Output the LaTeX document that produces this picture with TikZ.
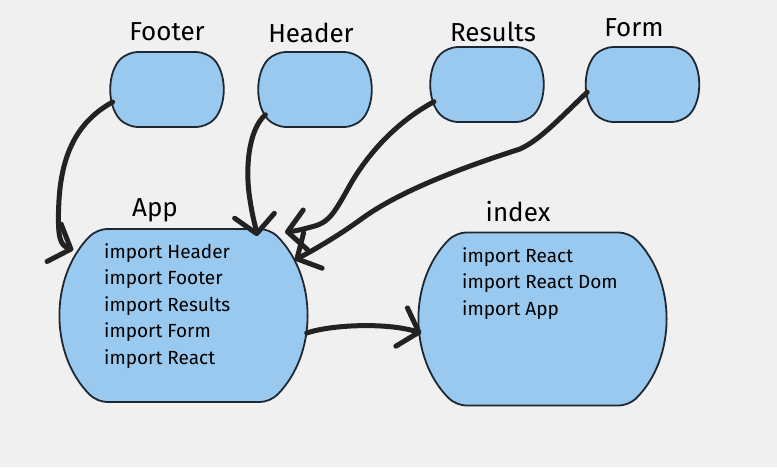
\documentclass[tikz,border=0pt]{standalone}
\usepackage{fontspec}
\setmainfont{Fira Sans}
\usepackage{tikz}
\usetikzlibrary{shapes.misc,arrows.meta,calc}
\definecolor{boxblue}{RGB}{153,201,239}
\definecolor{inkline}{RGB}{34,34,34}
\definecolor{boxline}{RGB}{30,40,50}
\definecolor{paper}{RGB}{240,240,240}

\begin{document}
\begin{tikzpicture}[x=1pt,y=-1pt,
    comp/.style={rounded rectangle, rounded rectangle arc length=90, draw=boxline,
      line width=1.8pt, fill=boxblue, inner sep=0pt, rounded corners=10pt},
    small/.style={comp, minimum width=110pt, minimum height=75pt},
    big/.style={comp, minimum width=244pt, minimum height=173pt},
    title/.style={font=\fontsize{26}{30}\selectfont, inner sep=0pt},
    lines/.style={font=\fontsize{19}{26.5}\selectfont, align=left, anchor=north west, inner sep=0pt},
    link/.style={draw=inkline, line width=5pt, line cap=round, sharp corners,
      -{Straight Barb[length=18pt,width=40pt,round]}}]
  \fill[paper] (0,0) rectangle (777,467);
  \useasboundingbox (0,0) rectangle (777,467);

  % the four components on top
  \foreach \name/\x/\y/\lx/\ly in {Footer/167/89.5/167/32, Header/315/89.5/311/33,
      Results/487/84.5/493/32, Form/642.5/84.5/634/28} {
    \node[small] (\name) at (\x,\y) {};
    \node[title] (lbl\name) at (\lx,\ly) {\name};
  }

  % App and index
  \node[big] (App) at (183.5,315.5) {};
  \node[title] (lblApp) at (155,210) {App};
  \node[lines] (appText) at (104,243) {import Header\\import Footer\\import Results\\import Form\\import React};

  \node[big] (index) at (542.5,319) {};
  \node[title] (lblindex) at (518,212) {index};
  \node[lines] (indexText) at (462,247) {import React\\import React Dom\\import App};

  % imports into App
  \draw[link] (Footer.193) .. controls (80,120) and (62,150) .. (59,200)
    .. controls (57,238) and (60,245) .. ($(App.west)+(13,-65.5)$);
  \draw[link] (Header.207) .. controls (248,130) and (245,170) .. (250,200)
    .. controls (253,220) and (256,228) .. ($(App.north)+(73.5,8)$);
  \draw[link] (Results.198) .. controls (400,120) and (370,150) .. (350,185)
    .. controls (335,212) and (330,220) .. (318,225)
    .. controls (305,229) and (295,231) .. ($(App.north)+(101.5,4)$);
  \draw[link] (Form.188) .. controls (560,118) and (540,140) .. (520,149)
    .. controls (470,165) and (400,190) .. (360,220)
    .. controls (335,238) and (310,252) .. ($(App.east)+(-12,-55.5)$);

  % App into index
  \draw[link] ($(App.east)+(0,17.5)$) .. controls (330,325) and (385,322) .. ($(index.west)+(2,14)$);
\end{tikzpicture}
\end{document}
